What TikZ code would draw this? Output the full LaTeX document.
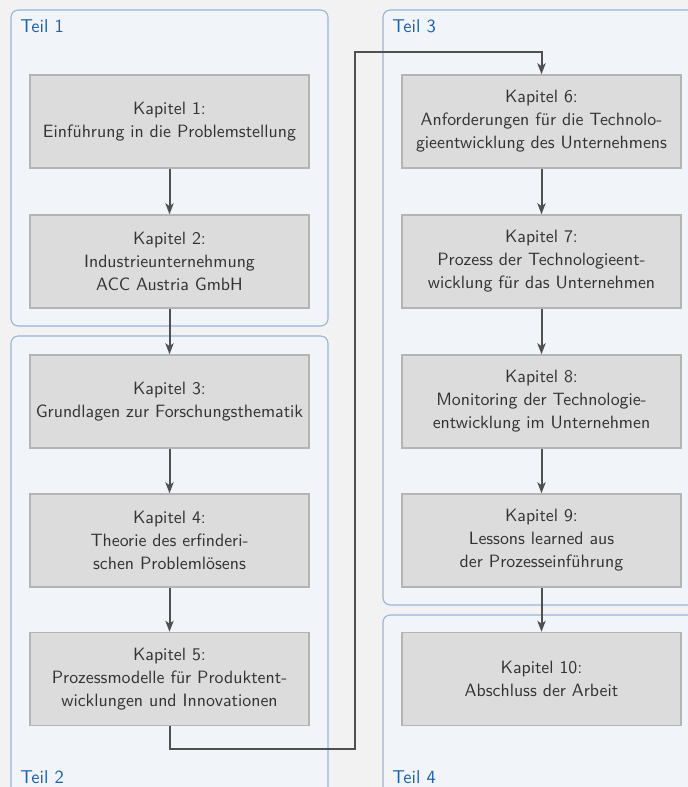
\documentclass[tikz,border=0pt]{standalone}
\usetikzlibrary{arrows.meta}
\definecolor{bgc}{HTML}{F2F2F2}
\definecolor{partfill}{HTML}{F1F5FA}
\definecolor{partline}{HTML}{95B5DA}
\definecolor{partlabel}{HTML}{1F5FA6}
\definecolor{boxfill}{HTML}{DCDCDC}
\definecolor{boxline}{HTML}{B4B4B4}
\definecolor{arrowc}{HTML}{505050}
\definecolor{textc}{HTML}{333333}
\begin{document}
\begin{tikzpicture}[x=0.55pt,y=-0.55pt,
  part/.style={draw=partline,fill=partfill,rounded corners=4pt,line width=0.6pt},
  partlbl/.style={text=partlabel,anchor=west,font=\sffamily\fontsize{10.2}{12}\selectfont,inner sep=0pt},
  chap/.style={draw=boxline,fill=boxfill,line width=0.8pt,minimum width=279*0.55pt,minimum height=93*0.55pt,align=center,text=textc,font=\sffamily\fontsize{9.8}{12.6}\selectfont,inner sep=2pt},
  flow/.style={draw=arrowc,line width=1.1pt,-{Stealth[length=6pt,width=4.5pt,inset=1.5pt]}}
]
\useasboundingbox (0,0) rectangle (688,787);
\clip (0,0) rectangle (688,787);
\fill[bgc] (0,0) rectangle (688,787);
% containers
\draw[part] (11,10) rectangle (328,326);
\draw[part] (11,336) rectangle (328,800);
\draw[part] (383,10) rectangle (700,605);
\draw[part] (383,615) rectangle (700,800);
\node[partlbl] (t1) at (20,26) {Teil 1};
\node[partlbl] (t2) at (20,777) {Teil 2};
\node[partlbl] (t3) at (392,26) {Teil 3};
\node[partlbl] (t4) at (392,777) {Teil 4};
% chapters
\node[chap] (k1) at (169.5,121.5) {Kapitel 1:\\Einführung in die Problemstellung};
\node[chap] (k2) at (169.5,261.5) {Kapitel 2:\\Industrieunternehmung\\ACC Austria GmbH};
\node[chap] (k3) at (169.5,401.5) {Kapitel 3:\\Grundlagen zur Forschungsthematik};
\node[chap] (k4) at (169.5,540.5) {Kapitel 4:\\Theorie des erfinderi-\\schen Problemlösens};
\node[chap] (k5) at (169.5,679) {Kapitel 5:\\Prozessmodelle für Produktent-\\wicklungen und Innovationen};
\node[chap] (k6) at (541.5,121.5) {Kapitel 6:\\Anforderungen für die Technolo-\\gieentwicklung des Unternehmens};
\node[chap] (k7) at (541.5,261.5) {Kapitel 7:\\Prozess der Technologieent-\\wicklung für das Unternehmen};
\node[chap] (k8) at (541.5,401.5) {Kapitel 8:\\Monitoring der Technologie-\\entwicklung im Unternehmen};
\node[chap] (k9) at (541.5,540.5) {Kapitel 9:\\Lessons learned aus\\der Prozesseinführung};
\node[chap] (k10) at (541.5,679) {Kapitel 10:\\Abschluss der Arbeit};
% connectors
\draw[flow] (k1) -- (k2);
\draw[flow] (k2) -- (k3);
\draw[flow] (k3) -- (k4);
\draw[flow] (k4) -- (k5);
\draw[flow] (k5.south) -- ++(0,23) -| (355,52) -| (k6.north);
\draw[flow] (k6) -- (k7);
\draw[flow] (k7) -- (k8);
\draw[flow] (k8) -- (k9);
\draw[flow] (k9) -- (k10);
\end{tikzpicture}
\end{document}
